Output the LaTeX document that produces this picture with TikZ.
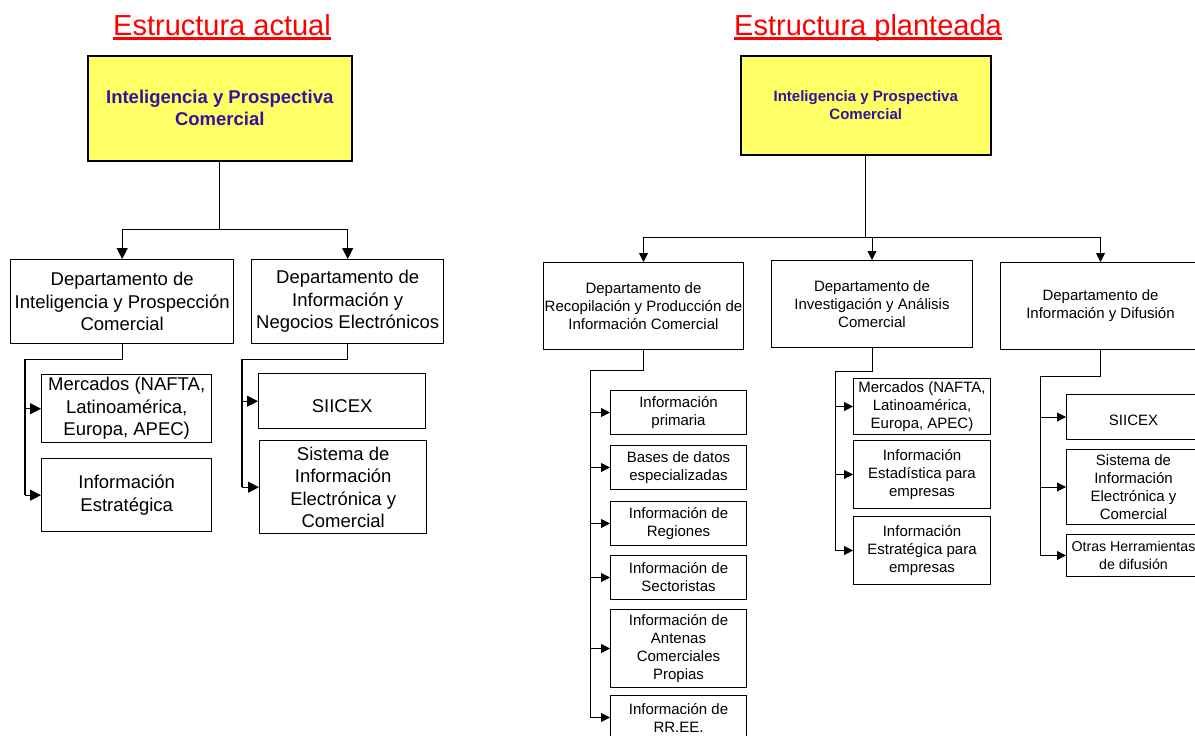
\documentclass[tikz,border=0pt]{standalone}
\usepackage{fontspec}
\setmainfont{Liberation Sans}
\usetikzlibrary{arrows.meta}
\definecolor{topyellow}{HTML}{FFFF66}
\definecolor{topblue}{HTML}{33159C}

\begin{document}
\begin{tikzpicture}[x=1pt,y=-1pt,
    title/.style={text=red,inner sep=0pt,anchor=base,font=\fontsize{29}{32}\selectfont},
    sized/.style 2 args={anchor=north west,minimum width=#1,minimum height=#2},
    topbox/.style={draw,line width=1.5pt,fill=topyellow,text=topblue,align=center,inner sep=0pt},
    bigbox/.style={draw,line width=1.4pt,align=center,inner sep=0pt,font=\fontsize{18.5}{22.5}\selectfont},
    smallbox/.style={draw,line width=1pt,align=center,inner sep=0pt,font=\fontsize{15}{18}\selectfont},
    bigarr/.style={line width=1.3pt,-{Triangle[length=11pt,width=11pt]}},
    smallarr/.style={line width=1pt,-{Triangle[length=9pt,width=9pt]}}]
  \useasboundingbox (0,0) rectangle (1195,736);

  % titulos
  \node[title] (lTitle) at (222,35) {Estructura actual};
  \node[title] (rTitle) at (868,35) {Estructura planteada};
  \draw[red,line width=2.5pt] ([yshift=-3.5pt]lTitle.base west) -- ([yshift=-3.5pt]lTitle.base east);
  \draw[red,line width=2.5pt] ([yshift=-3.5pt]rTitle.base west) -- ([yshift=-3.5pt]rTitle.base east);

  % estructura actual
  \node[topbox,sized={264pt}{105pt},font=\bfseries\fontsize{18.5}{22}\selectfont] (lTop) at (87,55)
    {Inteligencia y Prospectiva\\Comercial};
  \node[bigbox,sized={223pt}{84pt}] (lDep1) at (10,259) {Departamento de\\Inteligencia y Prospección\\Comercial};
  \node[bigbox,sized={192pt}{84pt}] (lDep2) at (251,259) {Departamento de\\Información y\\Negocios Electrónicos};
  \node[bigbox,sized={170pt}{68pt}] (lMer) at (41,374) {Mercados (NAFTA,\\Latinoamérica,\\Europa, APEC)};
  \node[bigbox,sized={170pt}{73pt}] (lInf) at (41,458) {Información\\Estratégica};
  \node[bigbox,sized={167pt}{55pt}] (lSii) at (258,373) {\mbox{}\\SIICEX};
  \node[bigbox,sized={167pt}{93pt}] (lSis) at (259,440) {Sistema de\\Información\\Electrónica y\\Comercial};

  \draw[line width=1.3pt] (lTop.south) -- ++(0,68) coordinate (lBus);
  \draw[bigarr] (lBus) -| (lDep1.north);
  \draw[bigarr] (lBus) -| (lDep2.north);
  \draw[line width=1.3pt] (lDep1.south) -- ++(0,15) -| ([xshift=-16pt]lInf.west);
  \foreach \c in {lMer,lInf}
    \draw[bigarr] ([xshift=-16pt]\c.west) -- (\c.west);
  \draw[line width=1.3pt] (lDep2.south) -- ++(0,15) -| ([xshift=-17pt]lSis.west);
  \foreach \c in {lSii,lSis}
    \draw[bigarr] ([xshift=-17pt]\c.west) -- (\c.west);

  % estructura planteada
  \node[topbox,sized={250pt}{99pt},font=\bfseries\fontsize{15}{18}\selectfont] (rTop) at (740,55)
    {Inteligencia y Prospectiva\\Comercial};
  \node[smallbox,sized={200pt}{87pt}] (rDep1) at (543,262) {Departamento de\\Recopilación y Producción de\\Información Comercial};
  \node[smallbox,sized={201pt}{87pt}] (rDep2) at (771,260) {Departamento de\\Investigación y Análisis\\Comercial};
  \node[smallbox,sized={200pt}{87pt}] (rDep3) at (1000,262) {Departamento de\\Información y Difusión};

  \node[smallbox,sized={136pt}{44pt}] (rPri) at (610,390) {Información\\primaria};
  \node[smallbox,sized={136pt}{44pt}] (rBas) at (610,445) {Bases de datos\\especializadas};
  \node[smallbox,sized={136pt}{44pt}] (rReg) at (610,501) {Información de\\Regiones};
  \node[smallbox,sized={136pt}{44pt}] (rSec) at (610,555) {Información de\\Sectoristas};
  \node[smallbox,sized={136pt}{78pt}] (rAnt) at (610,609) {Información de\\Antenas\\Comerciales\\Propias};
  \node[smallbox,sized={136pt}{44pt}] (rRre) at (610,695) {Información de\\RR.EE.};

  \node[smallbox,sized={137pt}{56pt}] (rMer) at (853,378) {Mercados (NAFTA,\\Latinoamérica,\\Europa, APEC)};
  \node[smallbox,sized={137pt}{68pt}] (rEst) at (853,440) {Información\\Estadística para\\empresas};
  \node[smallbox,sized={137pt}{68pt}] (rEsg) at (853,516) {Información\\Estratégica para\\empresas};

  \node[smallbox,sized={134pt}{45pt}] (rSii) at (1066,394) {\mbox{}\\SIICEX};
  \node[smallbox,sized={134pt}{75pt}] (rSis) at (1066,449) {Sistema de\\Información\\Electrónica y\\Comercial};
  \node[smallbox,sized={134pt}{42pt},font=\fontsize{14.2}{18}\selectfont] (rOtr) at (1066,534) {Otras Herramientas\\de difusión};

  \draw[line width=1pt] (rTop.south) -- ++(0,82) coordinate (rBus);
  \draw[smallarr] (rBus) -| (rDep1.north);
  \draw[smallarr] (rBus) -| (rDep3.north);
  \draw[smallarr] (rDep2.north |- rBus) -- (rDep2.north);

  \draw[line width=1pt] (rDep1.south) -- ++(0,20) -| ([xshift=-20pt]rRre.west);
  \foreach \c in {rPri,rBas,rReg,rSec,rAnt,rRre}
    \draw[smallarr] ([xshift=-20pt]\c.west) -- (\c.west);
  \draw[line width=1pt] (rDep2.south) -- ++(0,23) -| ([xshift=-18pt]rEsg.west);
  \foreach \c in {rMer,rEst,rEsg}
    \draw[smallarr] ([xshift=-18pt]\c.west) -- (\c.west);
  \draw[line width=1pt] (rDep3.south) -- ++(0,26) -| ([xshift=-26pt]rOtr.west);
  \foreach \c in {rSii,rSis,rOtr}
    \draw[smallarr] ([xshift=-26pt]\c.west) -- (\c.west);
\end{tikzpicture}
\end{document}
